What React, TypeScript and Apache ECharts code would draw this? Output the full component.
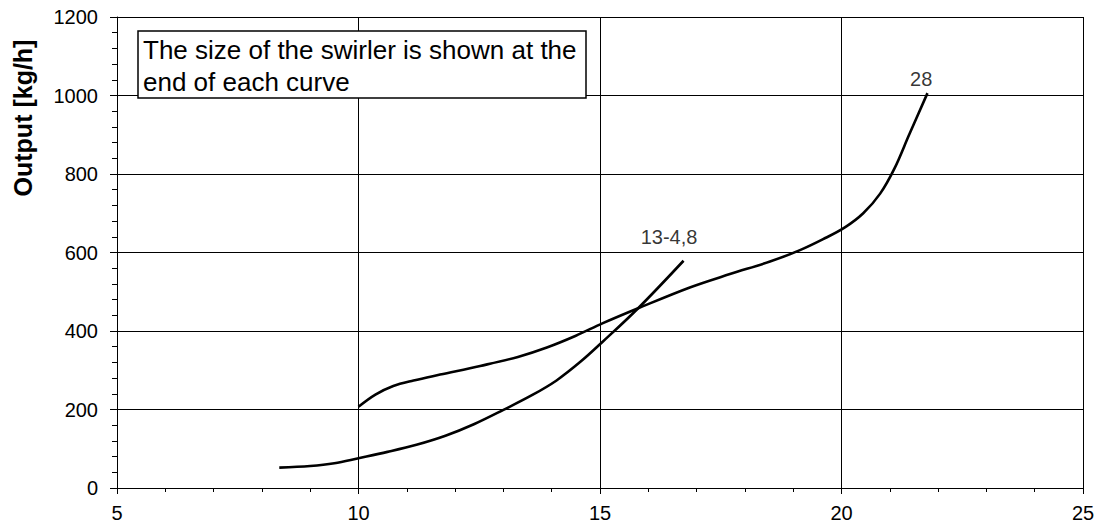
import React, { useEffect, useRef } from "react";
import * as echarts from "echarts";

const xTicks = { min: 5, max: 25, interval: 5 };
const yTicks = { min: 0, max: 1200, interval: 200 };

// Swirler 13-4,8
const curve1X = [8.36, 9.0, 9.5, 10, 10.6, 11.2, 11.8, 12.4, 13.0, 13.6, 14.1, 14.6, 15.05, 15.79, 16.73];
const curve1Y = [52, 56, 63, 76, 92, 110, 133, 163, 199, 237, 274, 322, 372, 458, 579];

// Swirler 28
const curve2X = [10, 10.35, 10.72, 11.14, 11.69, 12.52, 13.3, 13.9, 14.5, 15.06, 15.79, 16.86, 17.69, 18.52, 19.14, 19.62, 20.07, 20.45, 20.8, 21.1, 21.4, 21.78];
const curve2Y = [207, 238, 260, 274, 289, 311, 334, 358, 388, 420, 458, 511, 545, 577, 606, 634, 664, 700, 750, 815, 900, 1006];

const curveLabels = ["13-4,8", "28"];
const labelX = [16.43, 21.65];
const labelY = [639, 1042];

const yTitle = "Output [kg/h]";
const noteLines = ["The size of the swirler is shown at the", "end of each curve"];

const FONT = "'Liberation Sans', Arial, sans-serif";

export default function App() {
  const ref = useRef<HTMLDivElement>(null);
  useEffect(() => {
    if (!ref.current) return;
    const chart = echarts.init(ref.current, undefined, { renderer: "svg" });
    const pair = (xs: number[], ys: number[]) => xs.map((x, i) => [x, ys[i]]);
    chart.setOption({
      animation: false,
      backgroundColor: "#ffffff",
      grid: { left: 117, right: 26, top: 17, bottom: 42 },
      xAxis: {
        type: "value",
        min: xTicks.min,
        max: xTicks.max,
        interval: xTicks.interval,
        axisLine: { show: true, onZero: false, lineStyle: { color: "#000", width: 1 } },
        axisTick: { show: true, inside: false, length: 6, lineStyle: { color: "#000" } },
        minorTick: { show: true, splitNumber: 5, length: 4, lineStyle: { color: "#000" } },
        splitLine: { show: true, lineStyle: { color: "#000", width: 1 } },
        axisLabel: {
          color: "#000",
          fontSize: 20,
          fontFamily: FONT,
          margin: 15,
          formatter: (v: number) => String(v),
        },
      },
      yAxis: {
        type: "value",
        min: yTicks.min,
        max: yTicks.max,
        interval: yTicks.interval,
        axisLine: { show: true, lineStyle: { color: "#000", width: 1 } },
        axisTick: { show: true, inside: false, length: 7, lineStyle: { color: "#000" } },
        minorTick: { show: true, splitNumber: 5, length: 5, lineStyle: { color: "#000" } },
        splitLine: { show: true, lineStyle: { color: "#000", width: 1 } },
        axisLabel: {
          color: "#000",
          fontSize: 20,
          fontFamily: FONT,
          margin: 19,
          formatter: (v: number) => String(v),
        },
      },
      series: [
        {
          name: curveLabels[0],
          type: "line",
          data: pair(curve1X, curve1Y),
          smooth: 0.35,
          showSymbol: false,
          lineStyle: { color: "#000", width: 2.6 },
        },
        {
          name: curveLabels[1],
          type: "line",
          data: pair(curve2X, curve2Y),
          smooth: 0.35,
          showSymbol: false,
          lineStyle: { color: "#000", width: 2.6 },
        },
        {
          type: "scatter",
          symbolSize: 0,
          data: curveLabels.map((n, i) => ({ name: n, value: [labelX[i], labelY[i]] })),
          label: {
            show: true,
            position: "inside",
            formatter: (p: any) => p.name,
            color: "#000",
            fontSize: 20,
            fontFamily: FONT,
          },
          silent: true,
        },
      ],
      graphic: [
        {
          type: "text",
          x: 23,
          y: 118,
          rotation: Math.PI / 2,
          style: {
            text: yTitle,
            fill: "#000",
            font: `bold 25px ${FONT}`,
            textAlign: "center",
            textVerticalAlign: "middle",
          },
        },
        {
          type: "rect",
          shape: { x: 138, y: 31, width: 448, height: 67 },
          style: { fill: "#fff", stroke: "#000", lineWidth: 1.5 },
          z: 100,
        },
        {
          type: "text",
          x: 143,
          y: 50,
          z: 101,
          style: {
            text: noteLines[0],
            fill: "#000",
            font: `26px ${FONT}`,
            textAlign: "left",
            textVerticalAlign: "middle",
          },
        },
        {
          type: "text",
          x: 143,
          y: 81.5,
          z: 101,
          style: {
            text: noteLines[1],
            fill: "#000",
            font: `26px ${FONT}`,
            textAlign: "left",
            textVerticalAlign: "middle",
          },
        },
      ],
    });
    return () => chart.dispose();
  }, []);
  return (
    <div
      ref={ref}
      style={{ position: "fixed", left: 0, top: 0, width: 1109, height: 530 }}
    />
  );
}
